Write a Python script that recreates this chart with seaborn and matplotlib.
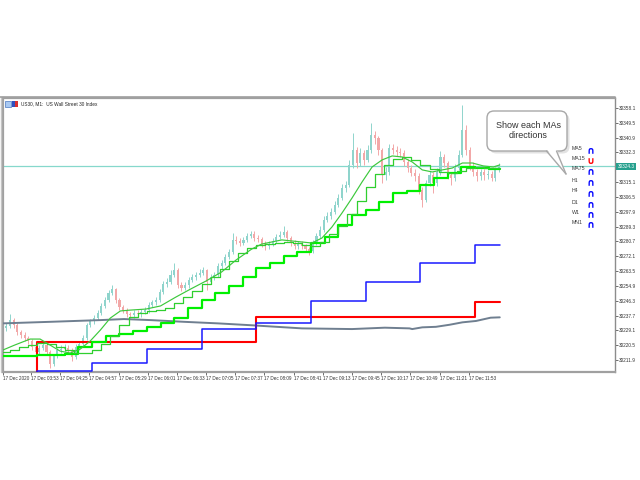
import matplotlib
matplotlib.use("Agg")
import matplotlib.pyplot as plt
import seaborn as sns
import pandas as pd
import numpy as np
from matplotlib.patches import FancyBboxPatch, Polygon, Rectangle
from matplotlib.transforms import blended_transform_factory

# ---------------- data (time = minutes after 00:00, 17 Dec 2020) ----------------
candle_start = 202
candle_step = 4
open_first = 30229.0
closes = [
    30230.5, 30231.6, 30235.1, 30232.2, 30228.2, 30226.4, 30224.7, 30222.9, 30219.4, 30216.6,
    30218.9, 30220.6, 30216.6, 30209.6, 30214.2, 30217.7, 30218.3, 30218.9, 30217.7, 30213.7,
    30219.4, 30221.2, 30224.7, 30232.2, 30234.5, 30236.3, 30239.2, 30243.2, 30246.7, 30250.8,
    30253.1, 30246.7, 30242.7, 30240.4, 30238.6, 30238.0, 30239.2, 30238.6, 30239.8, 30240.9,
    30243.8, 30245.6, 30246.7, 30251.4, 30256.0, 30257.2, 30261.2, 30264.1, 30255.4, 30253.7,
    30255.4, 30258.3, 30260.1, 30261.2, 30262.4, 30264.1, 30257.2, 30260.1, 30261.2, 30266.5,
    30268.2, 30271.7, 30274.6, 30281.6, 30281.0, 30279.8, 30281.6, 30283.9, 30285.0, 30282.7,
    30282.1, 30279.2, 30278.1, 30279.2, 30281.0, 30283.3, 30284.5, 30286.2, 30282.7, 30279.8,
    30278.1, 30279.2, 30278.1, 30276.3, 30275.2, 30279.8, 30283.9, 30287.4, 30293.2, 30295.5,
    30297.8, 30301.9, 30306.0, 30311.7, 30313.5, 30325.0, 30333.8, 30326.2, 30332.0, 30328.0,
    30333.8, 30342.5, 30340.7, 30333.8, 30319.3, 30321.0, 30334.9, 30333.8, 30332.6, 30332.0,
    30326.8, 30323.3, 30320.4, 30318.7, 30310.6, 30304.8, 30314.6, 30319.3, 30314.6, 30321.0,
    30329.7, 30326.2, 30319.3, 30317.5, 30323.3, 30330.9, 30345.4, 30333.8, 30324.5, 30321.0,
    30318.7, 30321.0, 30319.3, 30319.8, 30317.5, 30322.2, 30324.3]
highs = [
    30232.5, 30233.5, 30238.5, 30236.5, 30233.5, 30229.5, 30228.0, 30226.0, 30224.0, 30220.5,
    30220.5, 30222.0, 30221.5, 30217.5, 30215.5, 30219.0, 30220.5, 30221.0, 30220.5, 30219.0,
    30221.0, 30223.0, 30226.5, 30233.5, 30236.0, 30238.0, 30241.0, 30245.0, 30248.5, 30252.5,
    30255.5, 30254.0, 30248.0, 30244.0, 30242.0, 30240.0, 30241.0, 30241.0, 30241.5, 30242.5,
    30245.5, 30247.0, 30248.5, 30253.0, 30258.0, 30259.5, 30264.0, 30268.5, 30265.5, 30257.0,
    30257.0, 30260.0, 30262.0, 30263.0, 30264.5, 30266.0, 30265.0, 30262.0, 30263.0, 30268.0,
    30270.0, 30273.5, 30276.5, 30285.5, 30284.0, 30282.5, 30283.5, 30285.5, 30287.0, 30286.5,
    30284.5, 30283.5, 30281.0, 30281.0, 30283.0, 30285.0, 30286.5, 30289.5, 30287.5, 30284.0,
    30281.5, 30281.0, 30281.0, 30279.5, 30277.5, 30281.5, 30285.5, 30289.5, 30295.5, 30298.0,
    30300.0, 30304.0, 30308.5, 30314.0, 30316.0, 30328.0, 30343.5, 30335.5, 30335.0, 30334.0,
    30336.5, 30349.5, 30345.0, 30342.0, 30335.0, 30324.0, 30337.5, 30337.5, 30336.0, 30335.0,
    30333.5, 30328.5, 30325.0, 30322.5, 30320.5, 30312.0, 30316.5, 30321.5, 30321.0, 30323.5,
    30333.0, 30331.5, 30327.5, 30321.0, 30325.5, 30333.5, 30360.0, 30348.5, 30335.5, 30326.5,
    30323.0, 30323.0, 30322.5, 30322.0, 30321.5, 30324.0, 30326.0]
lows = [
    30227.5, 30229.0, 30230.5, 30230.5, 30226.5, 30224.5, 30223.0, 30221.0, 30217.5, 30214.0,
    30215.0, 30217.5, 30215.0, 30207.5, 30208.5, 30213.0, 30216.0, 30216.5, 30215.5, 30211.5,
    30212.5, 30218.0, 30220.0, 30223.5, 30231.0, 30233.0, 30235.0, 30238.0, 30242.0, 30245.5,
    30249.5, 30245.0, 30241.0, 30239.0, 30237.0, 30236.5, 30236.5, 30237.0, 30237.0, 30238.5,
    30239.5, 30242.5, 30244.0, 30245.5, 30250.0, 30254.5, 30256.0, 30260.0, 30254.0, 30252.0,
    30252.5, 30254.0, 30257.0, 30258.5, 30260.0, 30261.0, 30252.5, 30256.0, 30258.5, 30260.0,
    30265.0, 30267.0, 30270.5, 30273.5, 30279.0, 30278.0, 30278.5, 30280.5, 30282.5, 30281.0,
    30280.5, 30277.5, 30276.0, 30276.5, 30278.0, 30280.0, 30282.0, 30283.5, 30281.0, 30278.0,
    30276.5, 30276.5, 30276.5, 30274.5, 30272.8, 30274.0, 30278.5, 30282.5, 30286.0, 30292.0,
    30294.0, 30296.5, 30300.5, 30305.0, 30309.5, 30312.0, 30323.5, 30323.5, 30324.5, 30325.0,
    30326.5, 30332.0, 30337.5, 30331.0, 30314.5, 30316.5, 30319.5, 30331.5, 30330.5, 30329.5,
    30324.5, 30321.0, 30318.5, 30316.0, 30308.5, 30300.5, 30303.5, 30313.0, 30308.8, 30313.0,
    30319.5, 30324.0, 30317.0, 30313.5, 30316.0, 30322.0, 30329.5, 30331.0, 30322.0, 30318.5,
    30316.0, 30316.5, 30316.5, 30317.0, 30315.5, 30316.0, 30321.0]

# fast MA (smooth thin green)
ma_fast_t = [202, 215, 232, 243, 254, 265, 276, 287, 298, 309, 320, 331, 342, 359, 375, 392,
             408, 425, 442, 458, 475, 486, 497, 508, 519, 530, 541, 552, 563, 574, 585, 596,
             607, 618, 629, 640, 651, 662, 673, 684, 695, 706, 717, 729, 740, 747]
ma_fast_v = [30217.7, 30220.6, 30224.1, 30224.1, 30220.6, 30217.1, 30216.0, 30218.3, 30223.0,
             30229.3, 30236.3, 30240.4, 30240.9, 30241.5, 30243.3, 30248.5, 30253.1, 30257.8,
             30263.0, 30270.0, 30276.3, 30279.2, 30280.4, 30281.6, 30281.0, 30280.4, 30279.8,
             30282.7, 30289.1, 30297.2, 30305.9, 30315.2, 30323.9, 30328.0, 30330.3, 30329.7,
             30326.8, 30322.2, 30321.0, 30322.2, 30323.3, 30326.2, 30326.2, 30324.5, 30323.9,
             30325.1]
# middle MA (thin stepped green), 10-minute levels
ma_mid_t = list(range(200, 741, 10))
ma_mid_v = [30216.6, 30217.7, 30219.4, 30220.6, 30221.8, 30221.2, 30219.4, 30217.7, 30216.0, 30216.0,
            30217.7, 30221.2, 30225.9, 30232.2, 30236.9, 30239.2, 30240.4, 30240.9, 30242.1, 30245.0,
            30248.5, 30252.0, 30256.0, 30260.1, 30264.7, 30269.4, 30274.0, 30276.9, 30278.6, 30279.2,
            30279.8, 30280.4, 30279.8, 30278.6, 30278.1, 30280.4, 30285.0, 30289.7, 30296.6, 30304.2,
            30312.3, 30319.8, 30325.1, 30328.6, 30329.7, 30328.0, 30325.1, 30322.7, 30321.0, 30320.4,
            30321.6, 30323.3, 30323.9, 30323.3, 30323.3]
# slow MA (thick stepped lime), 15-minute levels
ma_slow_t = list(range(195, 736, 15))
ma_slow_v = [30214.2, 30214.2, 30214.5, 30214.8, 30214.8, 30215.4, 30219.5, 30222.4, 30225.9, 30227.0,
             30228.7, 30231.1, 30233.4, 30236.3, 30242.1, 30246.7, 30250.8, 30254.9, 30260.1, 30265.3,
             30268.2, 30272.3, 30274.6, 30279.8, 30283.3, 30290.3, 30296.0, 30299.0, 30303.6, 30308.8,
             30310.0, 30313.5, 30317.5, 30320.4, 30323.9, 30323.3, 30322.7]
# H1 MA (blue) and H4 MA (red)
h1_t = [202, 240, 300, 360, 420, 480, 540, 600, 660, 720]
h1_v = [30195.0, 30205.3, 30210.2, 30218.3, 30229.9, 30233.4, 30246.1, 30257.2, 30268.2, 30278.6]
h4_t = [202, 240, 480, 720]
h4_v = [30195.0, 30222.5, 30236.8, 30245.5]
# long MA (slate gray)
gray_t = [202, 254, 309, 335, 364, 401, 438, 475, 530, 585, 621, 648, 651, 662, 677, 692, 706, 721, 737, 747]
gray_v = [30233.2, 30234.1, 30235.1, 30235.7, 30235.1, 30234.1, 30233.2, 30232.1, 30230.3, 30229.9,
          30230.7, 30230.3, 30229.9, 30230.9, 30231.2, 30232.4, 30233.8, 30234.6, 30236.5, 30236.7]
data_end = 747
current_price = 30324.3

xtick_t = [202.5, 233, 265, 297, 329, 361, 393, 425, 457, 489, 521, 553, 585, 617, 649, 681, 713]
xtick_labels = ["17 Dec 2020", "17 Dec 03:53", "17 Dec 04:25", "17 Dec 04:57", "17 Dec 05:29",
                "17 Dec 06:01", "17 Dec 06:33", "17 Dec 07:05", "17 Dec 07:37", "17 Dec 08:09",
                "17 Dec 08:41", "17 Dec 09:13", "17 Dec 09:45", "17 Dec 10:17", "17 Dec 10:49",
                "17 Dec 11:21", "17 Dec 11:53"]
ytick_vals = [30358.1, 30349.5, 30340.9, 30332.3, 30315.1, 30306.5, 30297.9, 30289.3, 30280.7,
              30272.1, 30263.5, 30254.9, 30246.3, 30237.7, 30229.1, 30220.5, 30211.9]

ind_labels = ["MA5", "MA15", "MA75", "H1", "H4", "D1", "W1", "MN1"]
ind_up = [True, False, True, True, True, True, True, True]

title_text = "US30, M1:  US Wall Street 30 Index"
callout_lines = ["Show each MAs", "directions"]

# ---------------- figure ----------------
sns.set_style("white")
plt.rcParams['font.family'] = ['Liberation Sans', 'DejaVu Sans']

W, H = 640, 480
fig = plt.figure(figsize=(6.4, 4.8), dpi=100)
fig.patch.set_facecolor('white')


def fx(px):
    return px / W


def fy(py):
    return 1 - py / H


ax = fig.add_axes([fx(3), fy(372), fx(615) - fx(3), fy(98) - fy(372)])
ax.set_facecolor('white')
XL = (233 - 28 / 0.912, 233 + 584 / 0.912)
YL = (30205.0, 30363.9)

# candles
times = candle_start + candle_step * np.arange(len(closes))
opens = [open_first] + closes[:-1]
cd = pd.DataFrame({'t': times, 'open': opens, 'close': closes, 'high': highs, 'low': lows})
up = (cd['close'] >= cd['open']).values
cols = np.where(up, '#8fd4cc', '#f2a8a8')
ax.vlines(cd['t'], cd['low'], cd['high'], colors=cols, lw=0.7, zorder=2)
body = (cd['close'] - cd['open']).values
body = np.where(np.abs(body) < 0.5, np.where(body >= 0, 0.5, -0.5), body)
ax.bar(cd['t'], body, bottom=cd['open'], width=2.3, color=cols, linewidth=0, zorder=2)

# current price line
ax.axhline(current_price, color='#86d8cc', lw=0.9, zorder=1)


def step_frame(ts, vs):
    return pd.DataFrame({'t': list(ts) + [data_end], 'v': list(vs) + [vs[-1]]})


sns.lineplot(data=pd.DataFrame({'t': gray_t, 'v': gray_v}), x='t', y='v', ax=ax,
             color='#6f7f90', lw=1.4, estimator=None, sort=False, zorder=3)
sns.lineplot(data=step_frame(h4_t, h4_v), x='t', y='v', ax=ax, color='#ff0000', lw=1.5,
             drawstyle='steps-post', estimator=None, sort=False, zorder=4)
sns.lineplot(data=step_frame(h1_t, h1_v), x='t', y='v', ax=ax, color='#1a1aff', lw=1.1,
             drawstyle='steps-post', estimator=None, sort=False, zorder=4)
sns.lineplot(data=step_frame(ma_slow_t, ma_slow_v), x='t', y='v', ax=ax, color='#00f000', lw=1.6,
             drawstyle='steps-post', estimator=None, sort=False, zorder=5)
sns.lineplot(data=step_frame(ma_mid_t, ma_mid_v), x='t', y='v', ax=ax, color='#2fcf2f', lw=0.9,
             drawstyle='steps-post', estimator=None, sort=False, zorder=5)
sns.lineplot(data=pd.DataFrame({'t': ma_fast_t, 'v': ma_fast_v}), x='t', y='v', ax=ax,
             color='#3cc83c', lw=0.85, estimator=None, sort=False, zorder=6)

ax.set_xlim(*XL)
ax.set_ylim(*YL)
ax.set_xlabel('')
ax.set_ylabel('')

for s in ['top', 'left', 'bottom']:
    ax.spines[s].set_color('#a0a0a0')
    ax.spines[s].set_linewidth(1.6)
ax.spines['right'].set_color('#8c8c8c')
ax.spines['right'].set_linewidth(1.0)

ax.yaxis.tick_right()
ax.set_yticks(ytick_vals)
ax.set_yticklabels([f"{v:.1f}" for v in ytick_vals], fontsize=3.4, color='#333333')
ax.tick_params(axis='y', which='both', right=True, left=False, direction='out', length=2,
               width=0.6, color='#555555', pad=1)
ax.set_xticks(xtick_t)
ax.set_xticklabels(xtick_labels, fontsize=3.3, color='#333333', ha='left')
ax.tick_params(axis='x', which='both', bottom=True, direction='out', length=2, width=0.6,
               color='#555555', pad=1.2)

trans = blended_transform_factory(ax.transAxes, ax.transData)
ax.text(1.004, current_price, "30324.3", transform=trans, ha='left', va='center', fontsize=3.4,
        color='white', bbox=dict(boxstyle='square,pad=0.25', fc='#26a08e', ec='none'), zorder=10,
        clip_on=False)

# ---------------- overlay annotations (pixel coordinates) ----------------
ov = fig.add_axes([0, 0, 1, 1], zorder=10)
ov.set_xlim(0, W)
ov.set_ylim(H, 0)
ov.axis('off')
ov.patch.set_alpha(0)

ov.plot([0.8, 0.8], [97, 372], color='#c4c4c4', lw=1.0)
ov.plot([0, 615], [97.3, 97.3], color='#a0a0a0', lw=1.2)

# chart title + icon
ov.add_patch(Rectangle((4.5, 101), 6, 5.5, fc='#a9c9f2', ec='#4a78c0', lw=0.5))
ov.add_patch(Rectangle((12, 101), 3, 5.5, fc='#3050c0', ec='none'))
ov.add_patch(Rectangle((15, 101), 3, 5.5, fc='#d83030', ec='none'))
ov.text(21, 104, title_text, fontsize=3.4, va='center', ha='left', color='#222222')

# MA direction list
ind_y = [148, 158, 169, 180, 191, 202, 212, 222]
for lab, isup, yy in zip(ind_labels, ind_up, ind_y):
    ov.text(571.5, yy, lab, fontsize=3.8, va='center', ha='left', color='#3a3a3a')
    ov.text(590.5, yy + 2.5, '\u2229' if isup else '\u222A', fontsize=7, fontweight='bold',
            va='center', ha='center', color='#0000ff' if isup else '#ff0000',
            family=['DejaVu Sans'])

# callout bubble
ov.add_patch(FancyBboxPatch((491.5, 115.5), 76, 36, boxstyle='round,pad=2,rounding_size=7',
                            fc='#e2e2e2', ec='none', zorder=1))
ov.add_patch(FancyBboxPatch((489, 113), 76, 36, boxstyle='round,pad=2,rounding_size=7',
                            fc='white', ec='#a8a8a8', lw=1.0, zorder=2))
ov.add_patch(Polygon([(546.5, 149), (556.5, 149), (566, 174)], closed=True, fc='white',
                     ec='none', zorder=3))
ov.plot([546.5, 566], [151, 174], color='#a8a8a8', lw=1.0, zorder=4)
ov.plot([556.5, 566], [151, 174], color='#a8a8a8', lw=1.0, zorder=4)
ov.text(528, 125, callout_lines[0], fontsize=6.5, ha='center', va='center', color='#333333', zorder=5)
ov.text(528, 135, callout_lines[1], fontsize=6.5, ha='center', va='center', color='#333333', zorder=5)

fig.savefig('out.png', dpi=100, facecolor='white')
